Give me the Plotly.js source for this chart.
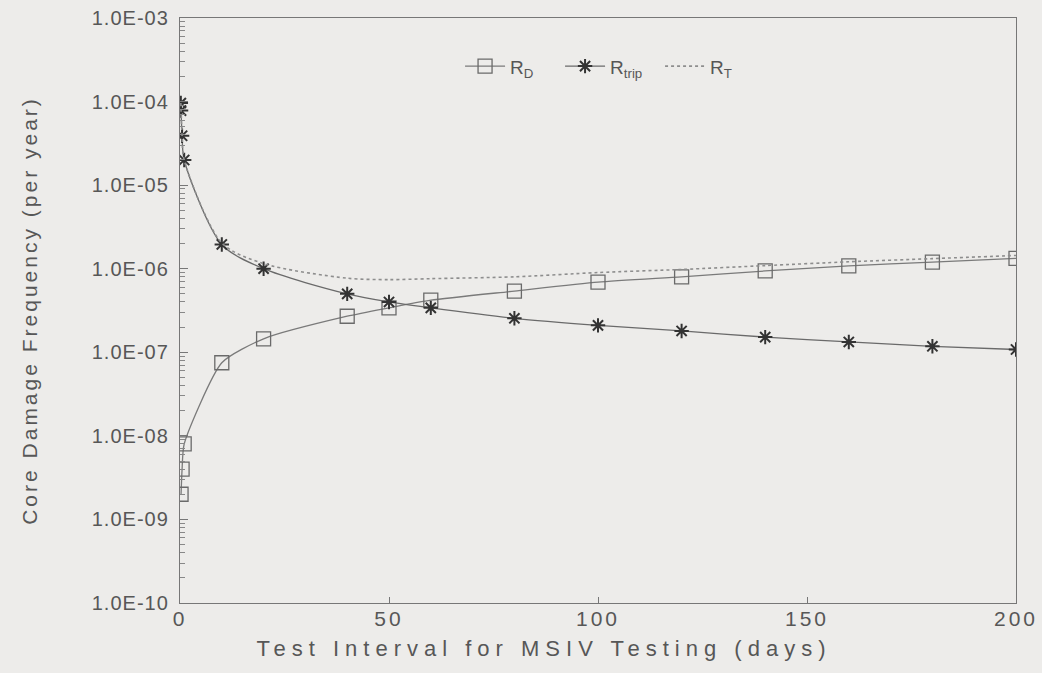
<!DOCTYPE html>
<html>
<head>
<meta charset="utf-8">
<script src="https://cdn.plot.ly/plotly-3.0.1.min.js"></script>
<style>
  html, body { margin: 0; padding: 0; background: #edecea; }
  #chart { width: 1042px; height: 673px; }
  #chart .xtick text { letter-spacing: 3px; }
  #chart .ytick text { letter-spacing: 1px; }
  #chart text.xtitle { letter-spacing: 6px; transform: translate(-54px, 3px); }
  #chart text.ytitle { letter-spacing: 3px; }
</style>
</head>
<body>
<div id="chart"></div>
<script>
// Test interval (days)
const xD    = [0.25, 0.5, 1, 10, 20, 40, 50, 60, 80, 100, 120, 140, 160, 180, 200];
const rD    = [2.0e-9, 4.0e-9, 8.0e-9, 7.5e-8, 1.45e-7, 2.7e-7, 3.4e-7, 4.2e-7, 5.4e-7, 6.9e-7, 8.0e-7, 9.4e-7, 1.08e-6, 1.2e-6, 1.33e-6];

const xTrip = [0.2, 0.25, 0.5, 1, 10, 20, 40, 50, 60, 80, 100, 120, 140, 160, 180, 200];
const rTrip = [9.6e-5, 7.8e-5, 3.9e-5, 2.0e-5, 1.95e-6, 1.0e-6, 5.0e-7, 4.0e-7, 3.4e-7, 2.55e-7, 2.1e-7, 1.8e-7, 1.52e-7, 1.33e-7, 1.18e-7, 1.08e-7];

const xT    = [0.2, 0.25, 0.5, 1, 10, 20, 40, 50, 60, 80, 100, 120, 140, 160, 180, 200];
const rT    = [9.6e-5, 7.8e-5, 3.9e-5, 2.0e-5, 2.03e-6, 1.15e-6, 7.7e-7, 7.4e-7, 7.6e-7, 8.0e-7, 9.0e-7, 9.8e-7, 1.09e-6, 1.21e-6, 1.32e-6, 1.44e-6];

const yTickVals = [1e-3, 1e-4, 1e-5, 1e-6, 1e-7, 1e-8, 1e-9, 1e-10];
const yTickText = ["1.0E-03", "1.0E-04", "1.0E-05", "1.0E-06", "1.0E-07", "1.0E-08", "1.0E-09", "1.0E-10"];
const xTickVals = [0, 50, 100, 150, 200];

const minorY = [];
for (let e = -10; e < -3; e++) {
  for (let m = 2; m <= 9; m++) minorY.push(m * Math.pow(10, e));
}

const txt = '#575757';
const traces = [
  {
    x: xD, y: rD, name: 'R<sub>D</sub>', type: 'scatter', mode: 'lines+markers',
    line: { color: '#7a7a7a', width: 1.3, shape: 'spline', smoothing: 0.6 },
    marker: { symbol: 'square-open', size: 14, color: '#6a6a6a', line: { width: 1.3, color: '#6a6a6a' } }
  },
  {
    x: xTrip, y: rTrip, name: 'R<sub>trip</sub>', type: 'scatter', mode: 'lines+markers',
    line: { color: '#6a6a6a', width: 1.3, shape: 'spline', smoothing: 0.8 },
    marker: { symbol: 'asterisk-open', size: 12, color: '#333', line: { width: 2, color: '#333' } }
  },
  {
    x: xT, y: rT, name: 'R<sub>T</sub>', type: 'scatter', mode: 'lines',
    line: { color: '#8e8e8e', width: 1.6, dash: 'dot', shape: 'spline', smoothing: 0.8 }
  }
];

const layout = {
  width: 1042, height: 673,
  paper_bgcolor: '#edecea', plot_bgcolor: '#edecea',
  margin: { l: 180, r: 26, t: 18, b: 70 },
  font: { family: 'Liberation Sans, Arial, sans-serif', color: txt, size: 17 },
  showlegend: true,
  legend: {
    orientation: 'h', x: 0.335, y: 0.95, xanchor: 'left', yanchor: 'top',
    bgcolor: 'rgba(0,0,0,0)', font: { size: 19, color: txt }, itemwidth: 40,
    entrywidth: 45, entrywidthmode: 'pixels'
  },
  xaxis: {
    type: 'linear', range: [0, 200], tickmode: 'array', tickvals: xTickVals,
    ticks: 'inside', ticklen: 6, tickcolor: '#777', showgrid: false, zeroline: false,
    showline: true, linecolor: '#777', linewidth: 1.2, mirror: true,
    tickfont: { size: 21, color: txt }, ticklabelstandoff: -3,
    title: { text: 'Test Interval for MSIV Testing (days)', font: { size: 22, color: txt }, standoff: 8 }
  },
  yaxis: {
    type: 'log', range: [-10, -3], tickmode: 'array', tickvals: yTickVals, ticktext: yTickText,
    ticks: 'inside', ticklen: 8, tickcolor: '#777', showgrid: false, zeroline: false,
    showline: true, linecolor: '#777', linewidth: 1.2, mirror: true,
    tickfont: { size: 20, color: txt }, ticklabelstandoff: 6,
    minor: { tickmode: 'array', tickvals: minorY, ticks: 'inside', ticklen: 5, tickcolor: '#888', showgrid: false },
    title: { text: 'Core Damage Frequency (per year)', font: { size: 21, color: txt }, standoff: 55 }
  }
};

Plotly.newPlot('chart', traces, layout, { displayModeBar: false, staticPlot: true });
</script>
</body>
</html>
